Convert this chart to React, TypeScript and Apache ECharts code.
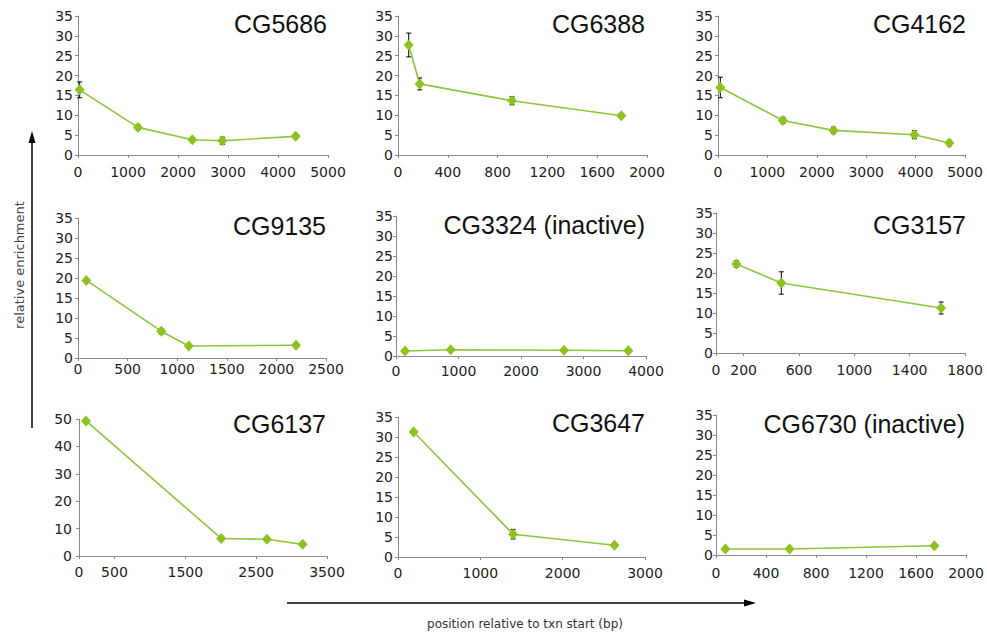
import React, { useEffect, useRef } from "react";
import * as echarts from "echarts";

// ---- data ----
const titles = [
  "CG5686", "CG6388", "CG4162",
  "CG9135", "CG3324 (inactive)", "CG3157",
  "CG6137", "CG3647", "CG6730 (inactive)",
];

const xCG5686 = [33, 1200, 2287, 2887, 4353];
const yCG5686 = [16.4, 6.95, 3.85, 3.6, 4.7];
const eCG5686 = [2.0, 0.6, 0.5, 0.9, 0.6];

const xCG6388 = [86, 174, 916, 1794];
const yCG6388 = [27.7, 17.9, 13.65, 9.9];
const eCG6388 = [3.0, 1.5, 1.0, 0.5];

const xCG4162 = [47, 1314, 2338, 3975, 4683];
const yCG4162 = [17.0, 8.7, 6.2, 5.1, 3.0];
const eCG4162 = [2.6, 0.8, 0.8, 1.0, 0.7];

const xCG9135 = [84, 839, 1117, 2198];
const yCG9135 = [19.4, 6.7, 3.0, 3.2];
const eCG9135 = [0.5, 0.7, 0.4, 0.5];

const xCG3324 = [144, 875, 2688, 3717];
const yCG3324 = [1.25, 1.58, 1.42, 1.33];
const eCG3324 = [0.3, 0.3, 0.3, 0.3];

const xCG3157 = [147, 472, 1627];
const yCG3157 = [22.25, 17.5, 11.25];
const eCG3157 = [0.8, 2.8, 1.5];

const xCG6137 = [99, 2007, 2652, 3156];
const yCG6137 = [49.3, 6.4, 6.1, 4.25];
const eCG6137 = [0.5, 0.8, 0.6, 0.8];

const xCG3647 = [190, 1398, 2630];
const yCG3647 = [31.25, 5.7, 2.95];
const eCG3647 = [0.5, 1.2, 0.5];

const xCG6730 = [75, 589, 1747];
const yCG6730 = [1.5, 1.5, 2.33];
const eCG6730 = [0.3, 0.3, 0.3];

const xs = [xCG5686, xCG6388, xCG4162, xCG9135, xCG3324, xCG3157, xCG6137, xCG3647, xCG6730];
const ys = [yCG5686, yCG6388, yCG4162, yCG9135, yCG3324, yCG3157, yCG6137, yCG3647, yCG6730];
const es = [eCG5686, eCG6388, eCG4162, eCG9135, eCG3324, eCG3157, eCG6137, eCG3647, eCG6730];

// axis ranges
const xMax = [5000, 2000, 5000, 2500, 4000, 1800, 3500, 3000, 2000];
const xStep = [1000, 400, 1000, 500, 1000, null, null, 1000, 400];
const xCustomTicks: (number[] | null)[] = [
  null, null, null, null, null,
  [0, 200, 600, 1000, 1400, 1800],
  [0, 500, 1500, 2500, 3500],
  null, null,
];
const yMax = [35, 35, 35, 35, 35, 35, 50, 35, 35];
const yStep = [5, 5, 5, 5, 5, 5, 10, 5, 5];

const yAxisTitle = "relative enrichment";
const xAxisTitle = "position relative to txn start (bp)";

// ---- layout ----
const gridRects = [
  { left: 78, top: 16, width: 250, height: 139 },
  { left: 398, top: 16, width: 249, height: 139 },
  { left: 718, top: 16, width: 247, height: 139 },
  { left: 78, top: 218, width: 248, height: 140 },
  { left: 396, top: 216, width: 250, height: 140 },
  { left: 716, top: 213, width: 249, height: 140 },
  { left: 79, top: 419, width: 248, height: 137 },
  { left: 398, top: 417, width: 247, height: 140 },
  { left: 716, top: 415, width: 250, height: 140 },
];
const xLabelMargin = [10, 10, 10, 4, 8, 10, 9, 9, 11];
const yLabelMargin = [5, 5, 5, 5, 3, 3, 7, 5, 3];
const titlePos = [
  [327, 24], [645, 24], [966, 24],
  [326, 226], [645, 225], [966, 225],
  [326, 424], [645, 423], [965, 424],
];

const GREEN = "#8cc63f";
const AXIS = "#8a8a8a";
const TICK_FONT = "DejaVu Sans";

export default function App() {
  const ref = useRef<HTMLDivElement>(null);
  useEffect(() => {
    if (!ref.current) return;
    const chart = echarts.init(ref.current, undefined, { renderer: "svg" });

    const grid: any[] = [];
    const xAxis: any[] = [];
    const yAxis: any[] = [];
    const series: any[] = [];
    const graphic: any[] = [];

    for (let i = 0; i < 9; i++) {
      grid.push({ ...gridRects[i], containLabel: false });
      const xa: any = {
        type: "value",
        gridIndex: i,
        min: 0,
        max: xMax[i],
        splitLine: { show: false },
        axisLine: { show: true, lineStyle: { color: AXIS, width: 1 } },
        axisTick: { show: true, length: 3, lineStyle: { color: AXIS } },
        axisLabel: {
          color: "#222",
          fontFamily: TICK_FONT,
          fontSize: 14,
          margin: xLabelMargin[i],
          showMinLabel: true,
          showMaxLabel: true,
          hideOverlap: false,
          formatter: (v: number) => String(v),
        },
      };
      if (xStep[i] != null) {
        xa.interval = xStep[i];
      } else if (xCustomTicks[i]) {
        xa.axisLabel.customValues = xCustomTicks[i];
        xa.axisTick.customValues = xCustomTicks[i];
      }
      xAxis.push(xa);
      yAxis.push({
        type: "value",
        gridIndex: i,
        min: 0,
        max: yMax[i],
        interval: yStep[i],
        splitLine: { show: false },
        axisLine: { show: true, lineStyle: { color: AXIS, width: 1 } },
        axisTick: { show: true, length: 3, lineStyle: { color: AXIS } },
        axisLabel: {
          color: "#222",
          fontFamily: TICK_FONT,
          fontSize: 14,
          margin: yLabelMargin[i],
          formatter: (v: number) => String(v),
        },
      });

      const errData = xs[i].map((x, k) => [x, ys[i][k], es[i][k]]);
      series.push({
        type: "custom",
        xAxisIndex: i,
        yAxisIndex: i,
        z: 1,
        clip: false,
        data: errData,
        encode: { x: 0, y: 1 },
        renderItem: (_p: any, api: any) => {
          const x = api.value(0);
          const y = api.value(1);
          const e = api.value(2);
          const t = api.coord([x, y + e]);
          const b = api.coord([x, Math.max(0, y - e)]);
          const cw = 2.5;
          const st = { stroke: "#000", lineWidth: 1 };
          return {
            type: "group",
            children: [
              { type: "line", shape: { x1: t[0], y1: t[1], x2: b[0], y2: b[1] }, style: st },
              { type: "line", shape: { x1: t[0] - cw, y1: t[1], x2: t[0] + cw, y2: t[1] }, style: st },
              { type: "line", shape: { x1: b[0] - cw, y1: b[1], x2: b[0] + cw, y2: b[1] }, style: st },
            ],
          };
        },
      });
      series.push({
        type: "line",
        xAxisIndex: i,
        yAxisIndex: i,
        z: 3,
        data: xs[i].map((x, k) => [x, ys[i][k]]),
        symbol: "diamond",
        symbolSize: [10, 11],
        showSymbol: true,
        lineStyle: { color: GREEN, width: 1.6 },
        itemStyle: { color: "#8dc21f" },
        clip: false,
      });

      graphic.push({
        type: "text",
        x: titlePos[i][0],
        y: titlePos[i][1],
        style: {
          text: titles[i],
          align: "right",
          verticalAlign: "middle",
          fontFamily: "Liberation Sans",
          fontSize: 25,
          fill: "#111",
        },
      });
    }

    // Axis arrows and titles
    graphic.push(
      { type: "line", shape: { x1: 32, y1: 428, x2: 32, y2: 140 }, style: { stroke: "#000", lineWidth: 1.5 } },
      { type: "polygon", shape: { points: [[32, 131], [28.5, 143], [35.5, 143]] }, style: { fill: "#000" } },
      { type: "line", shape: { x1: 287, y1: 603, x2: 746, y2: 603 }, style: { stroke: "#000", lineWidth: 1.5 } },
      { type: "polygon", shape: { points: [[756, 603], [744, 599.5], [744, 606.5]] }, style: { fill: "#000" } },
      {
        type: "text",
        x: 19,
        y: 265,
        rotation: Math.PI / 2,
        style: {
          text: yAxisTitle,
          align: "center",
          verticalAlign: "middle",
          fontFamily: "DejaVu Sans",
          fontSize: 13,
          fill: "#444",
        },
      },
      {
        type: "text",
        x: 525,
        y: 624,
        style: {
          text: xAxisTitle,
          align: "center",
          verticalAlign: "middle",
          fontFamily: "DejaVu Sans",
          fontSize: 12,
          fill: "#333",
        },
      }
    );

    chart.setOption({
      animation: false,
      backgroundColor: "#fff",
      grid,
      xAxis,
      yAxis,
      series,
      graphic,
    });
    return () => chart.dispose();
  }, []);

  return (
    <div
      ref={ref}
      style={{ position: "fixed", left: 0, top: 0, width: 987, height: 634 }}
    />
  );
}
